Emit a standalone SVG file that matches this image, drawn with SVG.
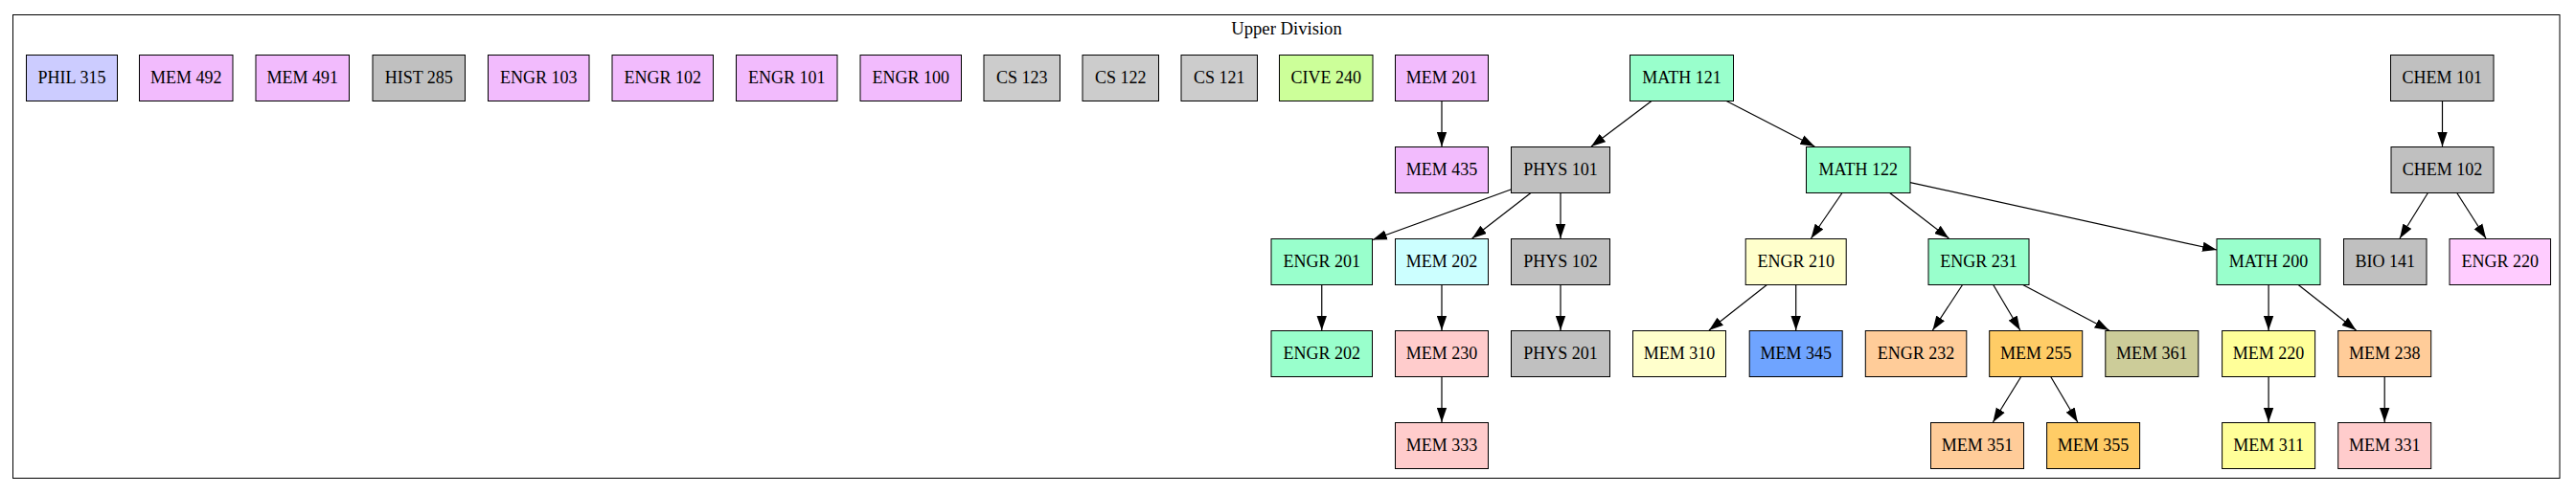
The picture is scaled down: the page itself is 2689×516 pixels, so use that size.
<svg xmlns="http://www.w3.org/2000/svg" width="2689" height="516" viewBox="0 0 2689 516">
<defs>
<style>
rect.n{stroke:#000;stroke-width:1}
text{font-family:"Liberation Serif","Times New Roman",serif;font-size:18px;fill:#000;text-anchor:middle}
text.title{font-size:18.67px}
.c-phil{fill:#ccccff}.c-plum{fill:#f2bbfd}.c-gray{fill:#c0c0c0}.c-lgray{fill:#cccccc}
.c-cive{fill:#ccff99}.c-aqua{fill:#99ffcc}.c-cyan{fill:#ccffff}.c-pink{fill:#ffcccc}
.c-ly{fill:#ffffcc}.c-blue{fill:#6fa4ff}.c-peach{fill:#ffcc99}.c-orange{fill:#ffcc66}
.c-olive{fill:#cccc99}.c-yellow{fill:#ffff99}.c-lpink{fill:#ffccff}
#edges line{stroke:#000;stroke-width:1.2;marker-end:url(#arr)}
</style>
<marker id="arr" markerUnits="userSpaceOnUse" markerWidth="15" markerHeight="11" viewBox="0 0 14.5 10" refX="14.5" refY="5" orient="auto">
<path d="M0,0 L14.5,5 L0,10 z" fill="#000"/>
</marker>
</defs>
<rect width="2689" height="516" fill="#fff"/>
<g id="cluster">
<rect x="13.5" y="15.5" width="2658.5" height="484" fill="none" stroke="#000" stroke-width="1"/>
<text class="title" x="1343" y="36">Upper Division</text>
</g>
<g id="edges">
<line x1="1505" y1="105" x2="1505" y2="153"/>
<line x1="1724.3" y1="105.3" x2="1661" y2="153"/>
<line x1="1801.7" y1="105.3" x2="1894.3" y2="153"/>
<line x1="2549.5" y1="105" x2="2549.5" y2="153"/>
<line x1="1577.7" y1="197.7" x2="1432.8" y2="250.5"/>
<line x1="1598.3" y1="201.3" x2="1536.7" y2="249"/>
<line x1="1629" y1="201" x2="1629" y2="249"/>
<line x1="1923.3" y1="201" x2="1890.5" y2="249"/>
<line x1="1972" y1="201" x2="2034.4" y2="249"/>
<line x1="1994" y1="190.6" x2="2314" y2="261"/>
<line x1="2534.7" y1="201" x2="2505" y2="249"/>
<line x1="2564.4" y1="201" x2="2595" y2="249"/>
<line x1="1379.75" y1="297" x2="1379.75" y2="345"/>
<line x1="1505" y1="297" x2="1505" y2="345"/>
<line x1="1629" y1="297" x2="1629" y2="345"/>
<line x1="1845" y1="297" x2="1784" y2="345"/>
<line x1="1874.7" y1="297" x2="1874.7" y2="345"/>
<line x1="2048.9" y1="297" x2="2017.4" y2="345"/>
<line x1="2080.4" y1="297" x2="2108.8" y2="345"/>
<line x1="2110.7" y1="297" x2="2201.6" y2="345"/>
<line x1="2368.1" y1="297" x2="2368.1" y2="345"/>
<line x1="2398.5" y1="297" x2="2459.5" y2="345"/>
<line x1="1505" y1="393" x2="1505" y2="441"/>
<line x1="2110" y1="393" x2="2080.4" y2="441"/>
<line x1="2140.4" y1="393" x2="2168.8" y2="441"/>
<line x1="2368.1" y1="393" x2="2368.1" y2="441"/>
<line x1="2489.2" y1="393" x2="2489.2" y2="441"/>
</g>
<g id="PHIL315"><rect class="n c-phil" x="27.5" y="57.5" width="95" height="48"/><text x="75" y="87">PHIL 315</text></g>
<g id="MEM492"><rect class="n c-plum" x="145.5" y="57.5" width="97.5" height="48"/><text x="194.25" y="87">MEM 492</text></g>
<g id="MEM491"><rect class="n c-plum" x="267" y="57.5" width="97.5" height="48"/><text x="315.75" y="87">MEM 491</text></g>
<g id="HIST285"><rect class="n c-gray" x="389" y="57.5" width="96.5" height="48"/><text x="437.25" y="87">HIST 285</text></g>
<g id="ENGR103"><rect class="n c-plum" x="509.5" y="57.5" width="105.5" height="48"/><text x="562.25" y="87">ENGR 103</text></g>
<g id="ENGR102"><rect class="n c-plum" x="639" y="57.5" width="105.5" height="48"/><text x="691.75" y="87">ENGR 102</text></g>
<g id="ENGR101"><rect class="n c-plum" x="768.5" y="57.5" width="105.5" height="48"/><text x="821.25" y="87">ENGR 101</text></g>
<g id="ENGR100"><rect class="n c-plum" x="898" y="57.5" width="105.5" height="48"/><text x="950.75" y="87">ENGR 100</text></g>
<g id="CS123"><rect class="n c-lgray" x="1027" y="57.5" width="79.5" height="48"/><text x="1066.75" y="87">CS 123</text></g>
<g id="CS122"><rect class="n c-lgray" x="1130" y="57.5" width="79.5" height="48"/><text x="1169.75" y="87">CS 122</text></g>
<g id="CS121"><rect class="n c-lgray" x="1233" y="57.5" width="79.5" height="48"/><text x="1272.75" y="87">CS 121</text></g>
<g id="CIVE240"><rect class="n c-cive" x="1335.5" y="57.5" width="97.5" height="48"/><text x="1384.25" y="87">CIVE 240</text></g>
<g id="MEM201"><rect class="n c-plum" x="1456.5" y="57.5" width="97" height="48"/><text x="1505" y="87">MEM 201</text></g>
<g id="MATH121"><rect class="n c-aqua" x="1701.5" y="57.5" width="108" height="48"/><text x="1755.5" y="87">MATH 121</text></g>
<g id="CHEM101"><rect class="n c-gray" x="2495.5" y="57.5" width="107.5" height="48"/><text x="2549.25" y="87">CHEM 101</text></g>
<g id="MEM435"><rect class="n c-plum" x="1456.5" y="153.5" width="97" height="48"/><text x="1505" y="183">MEM 435</text></g>
<g id="PHYS101"><rect class="n c-gray" x="1577.5" y="153.5" width="103" height="48"/><text x="1629" y="183">PHYS 101</text></g>
<g id="MATH122"><rect class="n c-aqua" x="1885.5" y="153.5" width="108.5" height="48"/><text x="1939.75" y="183">MATH 122</text></g>
<g id="CHEM102"><rect class="n c-gray" x="2496" y="153.5" width="107" height="48"/><text x="2549.5" y="183">CHEM 102</text></g>
<g id="ENGR201"><rect class="n c-aqua" x="1327" y="249.5" width="105.5" height="48"/><text x="1379.75" y="279">ENGR 201</text></g>
<g id="MEM202"><rect class="n c-cyan" x="1456.5" y="249.5" width="97" height="48"/><text x="1505" y="279">MEM 202</text></g>
<g id="PHYS102"><rect class="n c-gray" x="1577.5" y="249.5" width="103" height="48"/><text x="1629" y="279">PHYS 102</text></g>
<g id="ENGR210"><rect class="n c-ly" x="1822.2" y="249.5" width="105" height="48"/><text x="1874.7" y="279">ENGR 210</text></g>
<g id="ENGR231"><rect class="n c-aqua" x="2013" y="249.5" width="105" height="48"/><text x="2065.5" y="279">ENGR 231</text></g>
<g id="MATH200"><rect class="n c-aqua" x="2314" y="249.5" width="108" height="48"/><text x="2368" y="279">MATH 200</text></g>
<g id="BIO141"><rect class="n c-gray" x="2446.5" y="249.5" width="86.5" height="48"/><text x="2489.75" y="279">BIO 141</text></g>
<g id="ENGR220"><rect class="n c-lpink" x="2557" y="249.5" width="105.5" height="48"/><text x="2609.75" y="279">ENGR 220</text></g>
<g id="ENGR202"><rect class="n c-aqua" x="1327" y="345.5" width="105.5" height="48"/><text x="1379.75" y="375">ENGR 202</text></g>
<g id="MEM230"><rect class="n c-pink" x="1456.5" y="345.5" width="97" height="48"/><text x="1505" y="375">MEM 230</text></g>
<g id="PHYS201"><rect class="n c-gray" x="1577.5" y="345.5" width="103" height="48"/><text x="1629" y="375">PHYS 201</text></g>
<g id="MEM310"><rect class="n c-ly" x="1704.5" y="345.5" width="97" height="48"/><text x="1753" y="375">MEM 310</text></g>
<g id="MEM345"><rect class="n c-blue" x="1826.2" y="345.5" width="97" height="48"/><text x="1874.7" y="375">MEM 345</text></g>
<g id="ENGR232"><rect class="n c-peach" x="1947.3" y="345.5" width="105.5" height="48"/><text x="2000" y="375">ENGR 232</text></g>
<g id="MEM255"><rect class="n c-orange" x="2076.7" y="345.5" width="97" height="48"/><text x="2125.2" y="375">MEM 255</text></g>
<g id="MEM361"><rect class="n c-olive" x="2197.8" y="345.5" width="97" height="48"/><text x="2246.3" y="375">MEM 361</text></g>
<g id="MEM220"><rect class="n c-yellow" x="2319.6" y="345.5" width="97" height="48"/><text x="2368.1" y="375">MEM 220</text></g>
<g id="MEM238"><rect class="n c-peach" x="2440.7" y="345.5" width="97" height="48"/><text x="2489.2" y="375">MEM 238</text></g>
<g id="MEM333"><rect class="n c-pink" x="1456.5" y="441.5" width="97" height="48"/><text x="1505" y="471">MEM 333</text></g>
<g id="MEM351"><rect class="n c-peach" x="2015.5" y="441.5" width="97" height="48"/><text x="2064" y="471">MEM 351</text></g>
<g id="MEM355"><rect class="n c-orange" x="2136.6" y="441.5" width="97" height="48"/><text x="2185.1" y="471">MEM 355</text></g>
<g id="MEM311"><rect class="n c-yellow" x="2319.6" y="441.5" width="97" height="48"/><text x="2368.1" y="471">MEM 311</text></g>
<g id="MEM331"><rect class="n c-pink" x="2440.7" y="441.5" width="97" height="48"/><text x="2489.2" y="471">MEM 331</text></g>
</svg>
